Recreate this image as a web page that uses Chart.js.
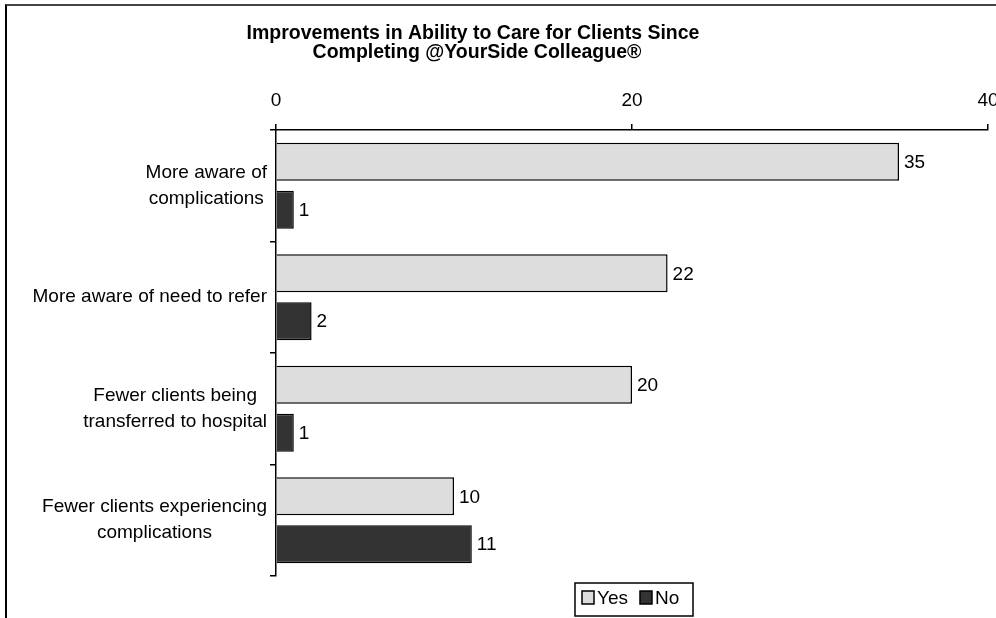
<!DOCTYPE html>
<html>
<head>
<meta charset="utf-8">
<script src="https://cdn.jsdelivr.net/npm/chart.js@4"></script>
<style>
  html, body { margin: 0; padding: 0; background: #fff; }
  #wrap { position: relative; width: 996px; height: 618px; overflow: hidden; }
  #frame { position: absolute; left: 5px; top: 4px; width: 1100px; height: 700px;
           border-left: 2px solid #000; border-top: 2px solid #444; }
  canvas { position: absolute; left: 0; top: 0; }
</style>
</head>
<body>
<div id="wrap">
  <canvas id="chart" width="996" height="618"></canvas>
  <div id="frame"></div>
</div>
<script>
const titleLines = ['Improvements in Ability to Care for Clients Since', 'Completing @YourSide Colleague\u00ae'];
const categories = [
  ['More aware of', 'complications'],
  ['More aware of need to refer'],
  ['Fewer clients being', 'transferred to hospital'],
  ['Fewer clients experiencing', 'complications']
];
const seriesNames = ['Yes', 'No'];
const yesValues = [35, 22, 20, 10];
const noValues = [1, 2, 1, 11];
const xTicks = [0, 20, 40];

const FONT = '"Liberation Sans", Arial, sans-serif';

// title, category labels, value labels and legend box
const extras = {
  id: 'extras',
  afterDraw(chart) {
    const ctx = chart.ctx;
    ctx.save();
    ctx.fillStyle = '#000';

    ctx.font = 'bold 19.5px ' + FONT;
    ctx.textAlign = 'center';
    ctx.textBaseline = 'middle';
    ctx.fillText(titleLines[0], 473, 34);
    ctx.fillText(titleLines[1], 477, 53);

    // category labels: block right aligned, lines centred
    const y = chart.scales.y;
    ctx.font = '19px ' + FONT;
    categories.forEach((lines, i) => {
      const w = Math.max(...lines.map(l => ctx.measureText(l).width));
      const cx = 267 - w / 2;
      const cy = y.getPixelForValue(i);
      const lh = 26;
      lines.forEach((l, j) => {
        ctx.fillText(l, cx, cy + (j - (lines.length - 1) / 2) * lh);
      });
    });

    // value labels
    ctx.font = '19px ' + FONT;
    ctx.textAlign = 'left';
    chart.data.datasets.forEach((ds, di) => {
      chart.getDatasetMeta(di).data.forEach((bar, i) => {
        ctx.fillText(String(ds.data[i]), bar.x + 5, bar.y + 1);
      });
    });

    // legend
    const bx = 575, by = 583, bw = 118, bh = 33;
    ctx.lineWidth = 1.5;
    ctx.strokeStyle = '#000';
    ctx.strokeRect(bx, by, bw, bh);
    ctx.font = '19px ' + FONT;
    let lx = bx + 7;
    chart.data.datasets.forEach(ds => {
      ctx.fillStyle = ds.backgroundColor;
      ctx.fillRect(lx, by + 8, 12, 13);
      ctx.strokeRect(lx, by + 8, 12, 13);
      ctx.fillStyle = '#000';
      ctx.fillText(ds.label, lx + 15, by + 16);
      lx += 15 + ctx.measureText(ds.label).width + 12;
    });
    ctx.restore();
  }
};

new Chart(document.getElementById('chart'), {
  type: 'bar',
  data: {
    labels: categories,
    datasets: [
      { label: seriesNames[0], data: yesValues, backgroundColor: '#dddddd', borderColor: '#000', borderWidth: 1.5 },
      { label: seriesNames[1], data: noValues, backgroundColor: '#333333', borderColor: '#000', borderWidth: 1.5 }
    ]
  },
  options: {
    indexAxis: 'y',
    responsive: false,
    animation: false,
    layout: { padding: { left: 0, top: 90, right: 8, bottom: 42 } },
    datasets: { bar: { categoryPercentage: 0.86, barPercentage: 0.79 } },
    plugins: { legend: { display: false }, title: { display: false }, tooltip: { enabled: false } },
    scales: {
      x: {
        position: 'top',
        min: xTicks[0],
        max: xTicks[xTicks.length - 1],
        afterBuildTicks(s) { s.ticks = xTicks.map(v => ({ value: v })); },
        afterFit(s) { s.height = 40; s.paddingLeft = 0; s.paddingRight = 0; },
        ticks: { color: '#000', font: { family: FONT, size: 19 }, padding: 12 },
        grid: { drawOnChartArea: false, tickLength: 6, color: '#000', lineWidth: 1.5 },
        border: { color: '#000', width: 1.5 }
      },
      y: {
        afterFit(s) { s.width = 276; s.paddingTop = 0; s.paddingBottom = 0; },
        ticks: { display: false },
        grid: { offset: true, drawOnChartArea: false, tickLength: 6, color: '#000', lineWidth: 1.5 },
        border: { color: '#000', width: 1.5 }
      }
    }
  },
  plugins: [extras]
});
</script>
</body>
</html>
